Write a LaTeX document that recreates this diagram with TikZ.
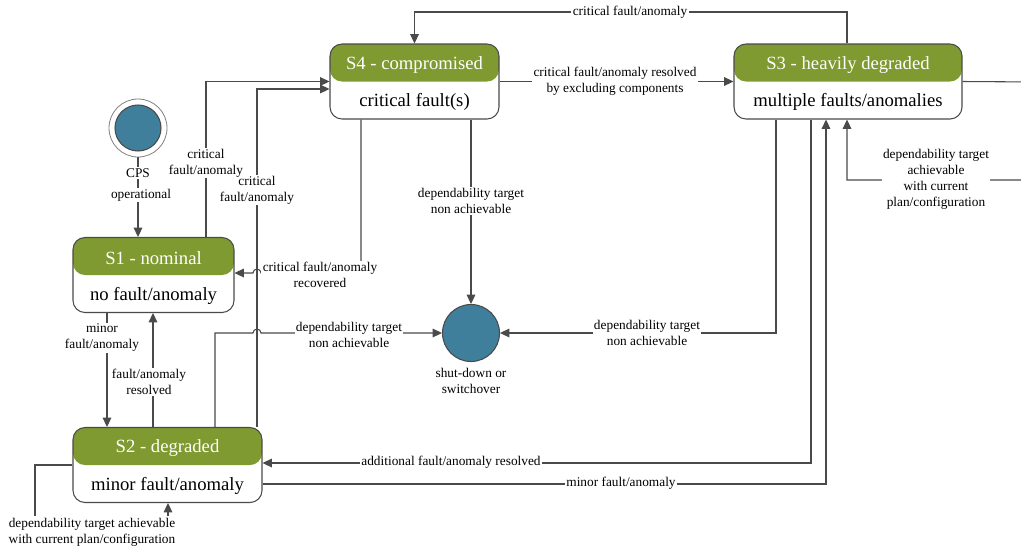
\documentclass[tikz,border=0pt]{standalone}
\usepackage{fontspec}
\setmainfont{Liberation Serif}
\usetikzlibrary{arrows.meta}
\definecolor{hdrgreen}{HTML}{7F9A30}
\definecolor{dotblue}{HTML}{3F7F9C}
\definecolor{edge}{HTML}{4A4A4A}

\begin{document}
\begin{tikzpicture}[x=0.75pt, y=-0.75pt,
    state/.style={draw=edge, line width=0.8pt, fill=white, rounded corners=9pt,
        minimum height=56.25pt, inner sep=0pt,
        path picture={\fill[hdrgreen] (path picture bounding box.north west)
            rectangle (path picture bounding box.east);}},
    hdr/.style={text=white, font=\fontsize{14}{16}\selectfont},
    body/.style={font=\fontsize{14}{16}\selectfont},
    endstate/.style={circle, draw=edge, line width=0.8pt, fill=dotblue,
        minimum size=42.75pt, inner sep=0pt},
    lbl/.style={fill=white, inner sep=1pt, align=center, font=\fontsize{10}{12}\selectfont},
    flow/.style={draw=edge, line width=0.8pt, -{Triangle[length=7pt,width=6.5pt]}},
    wire/.style={draw=edge, line width=0.8pt}]

    \useasboundingbox (0,0) rectangle (1021,551);
    \clip (0,0) rectangle (1021,551);

    % states
    \node[state, minimum width=120.75pt] (s1) at (153.5,275) {};
    \node[hdr] (s1h) at ([yshift=12.5pt]s1.center) {S1 - nominal};
    \node[body] (s1b) at ([yshift=-15.5pt]s1.center) {no fault/anomaly};

    \node[state, minimum width=141.75pt] (s2) at (167.5,465) {};
    \node[hdr] (s2h) at ([yshift=12.5pt]s2.center) {S2 - degraded};
    \node[body] (s2b) at ([yshift=-15.5pt]s2.center) {minor fault/anomaly};

    \node[state, minimum width=126.75pt] (s4) at (414.5,81.5) {};
    \node[hdr] (s4h) at ([yshift=12.5pt]s4.center) {S4 - compromised};
    \node[body] (s4b) at ([yshift=-15.5pt]s4.center) {critical fault(s)};

    \node[state, minimum width=171pt] (s3) at (848,81.5) {};
    \node[hdr] (s3h) at ([yshift=12.5pt]s3.center) {S3 - heavily degraded};
    \node[body] (s3b) at ([yshift=-15.5pt]s3.center) {multiple faults/anomalies};

    % start and end
    \node[circle, draw=edge!70, line width=0.6pt, fill=white, minimum size=43.5pt,
        inner sep=0pt] (init) at (138,128) {};
    \node[endstate, minimum size=34.5pt] (initdot) at (init) {};
    \node[endstate] (sd) at (471,333) {};
    \node[align=center, font=\fontsize{10}{12}\selectfont] (sdl) at (471,381)
        {shut-down or\\switchover};

    \node[lbl] (t12) at (92,532) {dependability target achievable\\with current plan/configuration};

    % transitions
    \draw[flow] (init.south) -- (init.south |- s1.north);
    \draw[flow] (s1.north -| 206,0) |- (s4.west);
    \draw[flow] (s2.north -| 257,0) |- (s4.west |- 0,89);
    \draw[flow] (s4.south -| 361,0) -- (361,273) -- (261,273)
        arc[start angle=0, end angle=180, radius=3pt] -- (s1.east |- 0,273);
    \draw[flow] (s4.south -| sd.north) -- (sd.north);
    \draw[flow] (s4.east) -- (s3.west);
    \draw[flow] (s3.north -| 847,0) |- (s4.north |- 0,12) -- (s4.north);
    \draw[flow] (s3.south -| 776,0) |- (sd.east);
    \draw[flow] (s3.south -| 811,0) |- (s2.east |- 0,463);
    \draw[flow] (s2.east |- 0,484) -| (s3.south -| 826,0);
    \draw[flow] (s3.east) -- (1040,82) -- (1040,180) -| (s3.south -| 847,0);
    \draw[wire] (s2.west) -| (t12.north -| 35,0);
    \draw[flow] (t12.north -| 168,0) -- (s2.south -| 168,0);
    \draw[flow] (s1.south -| 107,0) -- (s2.north -| 107,0);
    \draw[flow] (s2.north -| 153,0) -- (s1.south -| 153,0);
    \draw[flow] (s2.north -| 215,0) -- (215,333) -- (253,333)
        arc[start angle=180, end angle=0, radius=3pt] -- (sd.west);

    % labels
    \node[lbl] (t1a) at (138,173) {CPS};
    \node[lbl] (t1b) at (141,195) {operational};
    \node[lbl] (t3) at (257,190) {critical\\fault/anomaly};
    \node[lbl] (t2) at (206,163) {critical\\fault/anomaly};
    \node[lbl] (t4) at (320,275) {critical fault/anomaly\\recovered};
    \node[lbl] (t5) at (471,201) {dependability target\\non achievable};
    \node[lbl] (t6) at (615,81) {critical fault/anomaly resolved\\by excluding components};
    \node[lbl] (t7) at (630,12) {critical fault/anomaly};
    \node[lbl] (t8) at (647,333) {dependability target\\non achievable};
    \node[lbl] (t9) at (451,462) {additional fault/anomaly resolved};
    \node[lbl] (t10) at (621,483) {minor fault/anomaly};
    \node[lbl] (t11) at (936,179) {dependability target\\achievable\\with current\\plan/configuration};
    \node[lbl] (t13) at (102,338) {minor\\fault/anomaly};
    \node[lbl] (t14) at (149,382) {fault/anomaly\\resolved};
    \node[lbl] (t15) at (349,335) {dependability target\\non achievable};

\end{tikzpicture}
\end{document}
